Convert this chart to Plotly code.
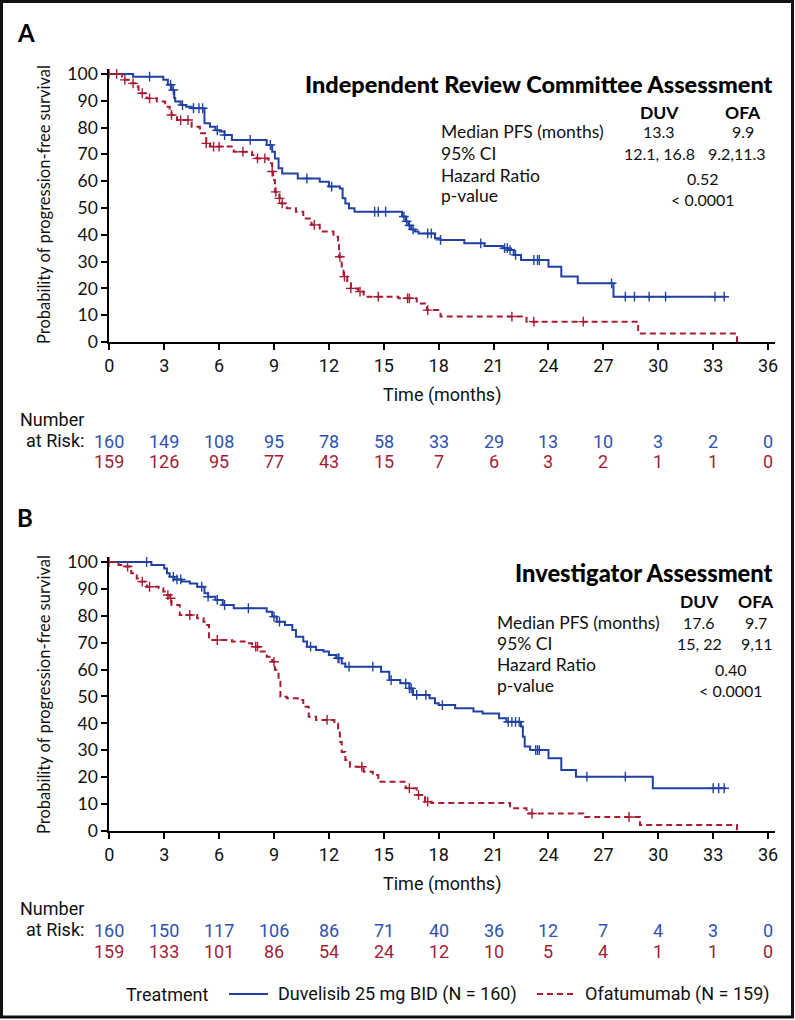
import plotly.graph_objects as go

W, H = 795, 1020

# ---------------- data ----------------
months_ticks = [0, 3, 6, 9, 12, 15, 18, 21, 24, 27, 30, 33, 36]

# Panel A - Independent Review Committee (time in months, survival %)
a_duv_t = [0, 1.3, 2.95, 3.2, 3.4, 3.55, 3.6, 3.9, 4.2, 4.5, 5.2, 5.5, 5.8, 6.05, 6.3, 6.7,
           8.6, 8.9, 9.05, 9.25, 9.45, 10.3, 11.5, 12.0, 12.6, 12.75, 12.9, 13.1, 13.4,
           16.0, 16.2, 16.35, 16.5, 16.7, 16.9, 17.8, 18.1, 19.4, 20.5, 21.5, 21.8, 22.1, 22.5,
           24.0, 24.7, 25.6, 27.55]
a_duv_s = [100, 99, 97.8, 96, 94, 91, 89.7, 88.4, 87.8, 87.2, 81.6, 80.3, 79, 78.5, 77.2, 75.4,
           73.5, 71, 68.5, 64.8, 62.9, 61, 59.8, 58, 57.3, 53.6, 51.7, 49.9, 48.6,
           46.8, 45, 43.5, 42, 41.2, 40.5, 38.7, 38.1, 36.8, 35.8, 35, 34.3, 32.5, 30.6,
           28.1, 24.4, 21.9, 16.9]
a_duv_end = 33.7
a_duv_cens = [2.2, 3.35, 3.5, 4.0, 4.6, 4.9, 5.1, 5.9, 6.3, 7.7, 8.8, 10.8, 12.15, 14.5, 14.7,
              15.1, 16.1, 16.25, 16.4, 16.6, 17.4, 17.6, 18.1, 20.3, 21.6, 21.75, 21.9, 22.2,
              23.2, 23.4, 23.5, 27.45, 28.2, 28.7, 29.5, 30.4, 33.1, 33.6]

a_ofa_t = [0, 0.7, 0.85, 1.15, 1.4, 1.6, 2.05, 2.6, 3.05, 3.3, 3.4, 3.7, 4.5, 4.95, 5.3, 5.5,
           6.8, 7.8, 8.05, 8.7, 8.9, 8.95, 9.05, 9.3, 9.4, 9.7, 10.2, 10.6, 11.05, 11.5, 12.25,
           12.5, 12.55, 12.7, 12.8, 13.0, 13.2, 13.6, 13.9, 15.8, 16.8, 17.35, 18.1, 22.8, 28.9, 34.3]
a_ofa_s = [100, 99, 97.8, 96.5, 95.3, 92.8, 90.9, 89.7, 87.8, 86, 84.7, 82.8, 80.3, 77.9, 74.1, 72.9,
           71, 69.8, 68.5, 66.7, 63.6, 60.4, 56, 53.6, 51.7, 49.9, 48.6, 46.1, 43.7, 41.2, 39.3,
           36.2, 31.8, 27.5, 24.4, 21.9, 20, 18.8, 16.9, 16.3, 14.4, 11.9, 9.5, 7.6, 3.2, 0]
a_ofa_end = 34.3
a_ofa_cens = [0.0, 0.4, 0.85, 1.3, 1.8, 2.2, 3.4, 3.9, 4.3, 5.3, 5.7, 6.0, 7.3, 8.1, 8.5, 8.9,
              9.1, 9.3, 9.45, 11.2, 12.6, 12.85, 13.2, 13.7, 14.7, 16.3, 16.4, 17.4, 22.0, 23.2, 25.9]

# Panel B - Investigator
b_duv_t = [0, 2.3, 3.0, 3.15, 3.3, 3.55, 3.95, 4.4, 4.8, 5.2, 5.4, 5.8, 6.2, 6.8, 8.6, 8.9, 9.15,
           9.6, 10.0, 10.2, 10.6, 10.8, 11.3, 11.7, 12.0, 12.4, 12.7, 12.9, 14.85, 15.3, 15.9,
           16.4, 16.6, 17.5, 17.8, 18.0, 18.9, 19.9, 20.4, 21.3, 21.7, 22.5, 22.6, 22.7, 23.0,
           24.0, 24.7, 25.5, 29.7]
b_duv_s = [100, 98.9, 97.6, 95.8, 94.5, 93.5, 92.7, 92, 90.8, 88.4, 87.1, 85.9, 84, 82.8, 81.5,
           79.7, 77.8, 76.6, 74.7, 72.2, 70.4, 68.5, 67.3, 66.7, 65.4, 64.2, 62.3, 61.1, 59.2,
           56.1, 54.9, 53, 50.6, 49.3, 47.5, 46.8, 45.6, 44.4, 43.7, 41.9, 40.6, 38.8, 35, 31.4,
           30.1, 27, 22.7, 20.2, 15.9]
b_duv_end = 33.7
b_duv_cens = [2.04, 3.5, 3.7, 3.9, 5.05, 5.4, 5.9, 6.3, 7.6, 9.0, 9.3, 11.0, 12.5, 12.55, 13.1,
              14.4, 15.4, 16.2, 16.4, 16.5, 16.8, 17.3, 18.2, 21.8, 22.0, 22.2, 22.4, 23.3, 23.4,
              23.5, 26.1, 28.2, 33.0, 33.3, 33.6]

b_ofa_t = [0, 0.5, 0.75, 1.2, 1.5, 1.7, 2.05, 2.7, 2.95, 3.15, 3.3, 3.4, 3.85, 4.8, 5.15, 5.35,
           5.45, 6.7, 7.4, 7.8, 8.2, 8.6, 8.9, 9.05, 9.25, 9.35, 9.7, 10.3, 10.6, 10.9, 11.3,
           12.3, 12.5, 12.6, 12.7, 12.9, 13.15, 13.9, 14.4, 14.7, 16.2, 16.8, 17.25, 17.6, 21.9,
           22.8, 25.9, 29.0, 34.3]
b_ofa_s = [100, 98.9, 98.3, 95.8, 93.9, 92.7, 90.8, 90.2, 89, 87.7, 86.5, 84, 80.3, 79.1, 77.8,
           76.6, 71, 70.4, 69.8, 68.5, 66.7, 64.8, 62.9, 59.9, 55.5, 49.9, 49.3, 48.7, 46.2, 42.5,
           41.3, 40, 37.4, 33.1, 29.4, 26.4, 23.9, 22, 20.8, 18.3, 15.9, 13.4, 10.9, 10.4, 8.5,
           6.5, 5.2, 2.2, 0]
b_ofa_end = 34.3
b_ofa_cens = [0.0, 1.0, 1.8, 2.2, 3.2, 3.35, 4.4, 5.9, 8.0, 8.1, 9.0, 11.9, 13.8, 16.4, 16.9,
              17.4, 23.1, 28.4]

# Number at risk
a_risk_duv = [160, 149, 108, 95, 78, 58, 33, 29, 13, 10, 3, 2, 0]
a_risk_ofa = [159, 126, 95, 77, 43, 15, 7, 6, 3, 2, 1, 1, 0]
b_risk_duv = [160, 150, 117, 106, 86, 71, 40, 36, 12, 7, 4, 3, 0]
b_risk_ofa = [159, 133, 101, 86, 54, 24, 12, 10, 5, 4, 1, 1, 0]

panel_titles = ["Independent Review Committee Assessment", "Investigator Assessment"]
stats_rows = ["Median PFS (months)", "95% CI", "Hazard Ratio", "p-value"]
a_stats = {"med": ["13.3", "9.9"], "ci": ["12.1, 16.8", "9.2,11.3"], "hr": "0.52", "p": "< 0.0001"}
b_stats = {"med": ["17.6", "9.7"], "ci": ["15, 22", "9,11"], "hr": "0.40", "p": "< 0.0001"}
legend_title = "Treatment"
arm_names = ["Duvelisib 25 mg BID (N = 160)", "Ofatumumab (N = 159)"]

# ---------------- styling ----------------
BLUE = "#2142a3"
RED = "#a81b32"
BLUE_TXT = "#2f52b0"
RED_TXT = "#a51d36"
SANS = "Lato, Open Sans, sans-serif"
COND = "Roboto, sans-serif"


def px(x):
    return x / W


def py(y):
    return 1 - y / H


def step_xy(t, s, end):
    xs = list(t) + [end]
    ys = list(s) + [s[-1]]
    return xs, ys


def lookup(t, s, c):
    out = []
    for ct in c:
        v = s[0]
        for ti, si in zip(t, s):
            if ti <= ct:
                v = si
        out.append(v)
    return out


fig = go.Figure()

panels = [
    dict(xa="x", ya="y", t1=a_duv_t, s1=a_duv_s, e1=a_duv_end, c1=a_duv_cens,
         t2=a_ofa_t, s2=a_ofa_s, e2=a_ofa_end, c2=a_ofa_cens),
    dict(xa="x2", ya="y2", t1=b_duv_t, s1=b_duv_s, e1=b_duv_end, c1=b_duv_cens,
         t2=b_ofa_t, s2=b_ofa_s, e2=b_ofa_end, c2=b_ofa_cens),
]

for p in panels:
    x1, y1 = step_xy(p["t1"], p["s1"], p["e1"])
    x2, y2 = step_xy(p["t2"], p["s2"], p["e2"])
    fig.add_trace(go.Scatter(x=x1, y=y1, mode="lines", line=dict(color=BLUE, width=2, shape="hv"),
                             xaxis=p["xa"], yaxis=p["ya"], name=arm_names[0], hoverinfo="skip"))
    fig.add_trace(go.Scatter(x=x2, y=y2, mode="lines",
                             line=dict(color=RED, width=2, shape="hv", dash="6px,4px"),
                             xaxis=p["xa"], yaxis=p["ya"], name=arm_names[1], hoverinfo="skip"))
    fig.add_trace(go.Scatter(x=p["c1"], y=lookup(p["t1"], p["s1"], p["c1"]), mode="markers",
                             marker=dict(symbol="cross-thin", size=7, line=dict(color=BLUE, width=1.4)),
                             xaxis=p["xa"], yaxis=p["ya"], hoverinfo="skip"))
    fig.add_trace(go.Scatter(x=p["c2"], y=lookup(p["t2"], p["s2"], p["c2"]), mode="markers",
                             marker=dict(symbol="cross-thin", size=7, line=dict(color=RED, width=1.4)),
                             xaxis=p["xa"], yaxis=p["ya"], hoverinfo="skip"))

x0p, x1p = 109.3, 775.4
axis_common = dict(showline=True, linecolor="black", linewidth=2, ticks="outside", ticklen=6,
                   tickwidth=1.5, tickcolor="black", showgrid=False, zeroline=False,
                   automargin=False)

xa = dict(axis_common, range=[0, 36.4], tickvals=months_ticks, domain=[px(x0p), px(x1p)],
          tickfont=dict(family=COND, size=18, color="#111"))
ya = dict(axis_common, range=[0, 102], tickvals=list(range(0, 101, 10)),
          tickfont=dict(family=SANS, size=17.5, color="#111"))

fig.update_layout(
    width=W, height=H, margin=dict(l=0, r=0, t=0, b=0, autoexpand=False),
    paper_bgcolor="white", plot_bgcolor="white", showlegend=False,
    xaxis=dict(xa, anchor="y"),
    yaxis=dict(ya, anchor="x", domain=[py(342), py(68.6)]),
    xaxis2=dict(xa, anchor="y2"),
    yaxis2=dict(ya, anchor="x2", domain=[py(831), py(556.6)]),
)

ann = []
# panel letters
ann.append(dict(x=px(15), y=py(32), text="<b>A</b>", font=dict(family=SANS, size=24, color="black"),
                xanchor="left", yanchor="middle"))
ann.append(dict(x=px(15), y=py(517), text="<b>B</b>", font=dict(family=SANS, size=24, color="black"),
                xanchor="left", yanchor="middle"))

# y-axis titles
for yc in [205, 695]:
    ann.append(dict(x=px(44), y=py(yc), text="Probability of progression-free survival", textangle=-90,
                    font=dict(family=SANS, size=16.5, color="#111"), xanchor="center", yanchor="middle"))

LAB = 17.5
VAL = 16
# stats blocks
blocks = [
    dict(st=a_stats, title=panel_titles[0], ty=84, hy=112, lx=439, c1=659, c2=743, c3=703,
         rows=[132, 153, 175, 195], vy=[132, 153, 178, 200], c2ci=737, tsize=23.5),
    dict(st=b_stats, title=panel_titles[1], ty=573, hy=601, lx=495, c1=699, c2=756, c3=731,
         rows=[622, 643, 664, 685], vy=[622, 643, 669, 690], c2ci=756, tsize=23.7),
]
for b in blocks:
    ann.append(dict(x=px(775), y=py(b["ty"]), text=b["title"], xanchor="right",
                    yanchor="middle", font=dict(family=SANS, size=b["tsize"], weight=900, color="black")))
    ann.append(dict(x=px(b["c1"]), y=py(b["hy"]), text="<b>DUV</b>", xanchor="center", yanchor="middle",
                    font=dict(family=SANS, size=17.5, color="black")))
    ann.append(dict(x=px(b["c2"]), y=py(b["hy"]), text="<b>OFA</b>", xanchor="center", yanchor="middle",
                    font=dict(family=SANS, size=17.5, color="black")))
    for lab, yy in zip(stats_rows, b["rows"]):
        ann.append(dict(x=px(b["lx"]), y=py(yy), text=lab, xanchor="left", yanchor="middle",
                        font=dict(family=SANS, size=LAB, color="#111")))
    st = b["st"]
    vals = [(b["c1"], b["vy"][0], st["med"][0]), (b["c2"], b["vy"][0], st["med"][1]),
            (b["c1"], b["vy"][1], st["ci"][0]), (b["c2ci"], b["vy"][1], st["ci"][1]),
            (b["c3"], b["vy"][2], st["hr"]), (b["c3"], b["vy"][3], st["p"])]
    for xx, yy, tt in vals:
        ann.append(dict(x=px(xx), y=py(yy), text=tt, xanchor="center", yanchor="middle",
                        font=dict(family=SANS, size=VAL, color="#111")))

# x-axis titles and risk tables
risk = [
    dict(xref="x", axis_y=342, duv=a_risk_duv, ofa=a_risk_ofa),
    dict(xref="x2", axis_y=831, duv=b_risk_duv, ofa=b_risk_ofa),
]
for r in risk:
    ay = r["axis_y"]
    ann.append(dict(x=px(442), y=py(ay + 53), text="Time (months)", xanchor="center", yanchor="middle",
                    font=dict(family=COND, size=18, color="#111")))
    ann.append(dict(x=px(86), y=py(ay + 77), text="Number", xanchor="right", yanchor="middle",
                    font=dict(family=COND, size=18, color="#111")))
    ann.append(dict(x=px(86), y=py(ay + 98), text="at Risk:", xanchor="right", yanchor="middle",
                    font=dict(family=COND, size=18, color="#111")))
    for tv, n1, n2 in zip(months_ticks, r["duv"], r["ofa"]):
        ann.append(dict(x=tv, xref=r["xref"], y=py(ay + 99), yref="paper", text=str(n1),
                        xanchor="center", yanchor="middle", showarrow=False,
                        font=dict(family=COND, size=18, color=BLUE_TXT)))
        ann.append(dict(x=tv, xref=r["xref"], y=py(ay + 120), yref="paper", text=str(n2),
                        xanchor="center", yanchor="middle", showarrow=False,
                        font=dict(family=COND, size=18, color=RED_TXT)))

# legend (manual)
LEG_Y = 994
LEG_F = 18
ann.append(dict(x=px(167), y=py(LEG_Y), text=legend_title, xanchor="center", yanchor="middle",
                font=dict(family=COND, size=LEG_F, color="#111")))
ann.append(dict(x=px(276), y=py(LEG_Y), text=arm_names[0], xanchor="left", yanchor="middle",
                font=dict(family=COND, size=LEG_F, color="#111")))
ann.append(dict(x=px(583), y=py(LEG_Y), text=arm_names[1], xanchor="left", yanchor="middle",
                font=dict(family=COND, size=LEG_F, color="#111")))
fig.add_shape(type="line", xref="paper", yref="paper", x0=px(229), x1=px(268), y0=py(LEG_Y), y1=py(LEG_Y),
              line=dict(color=BLUE, width=2))
fig.add_shape(type="line", xref="paper", yref="paper", x0=px(537), x1=px(576), y0=py(LEG_Y), y1=py(LEG_Y),
              line=dict(color=RED, width=2, dash="6px,4px"))

for a in ann:
    a.setdefault("xref", "paper")
    a.setdefault("yref", "paper")
    a.setdefault("showarrow", False)

fig.update_layout(annotations=ann)

# outer frame
fig.add_shape(type="rect", xref="paper", yref="paper", x0=px(1.5), x1=px(792.5), y0=py(1017), y1=py(1.5),
              line=dict(color="#111", width=3), fillcolor="rgba(0,0,0,0)")

fig.write_html("out.html", config={"displayModeBar": False},
               post_script="document.body.style.margin='0px';document.body.style.overflow='hidden';")
